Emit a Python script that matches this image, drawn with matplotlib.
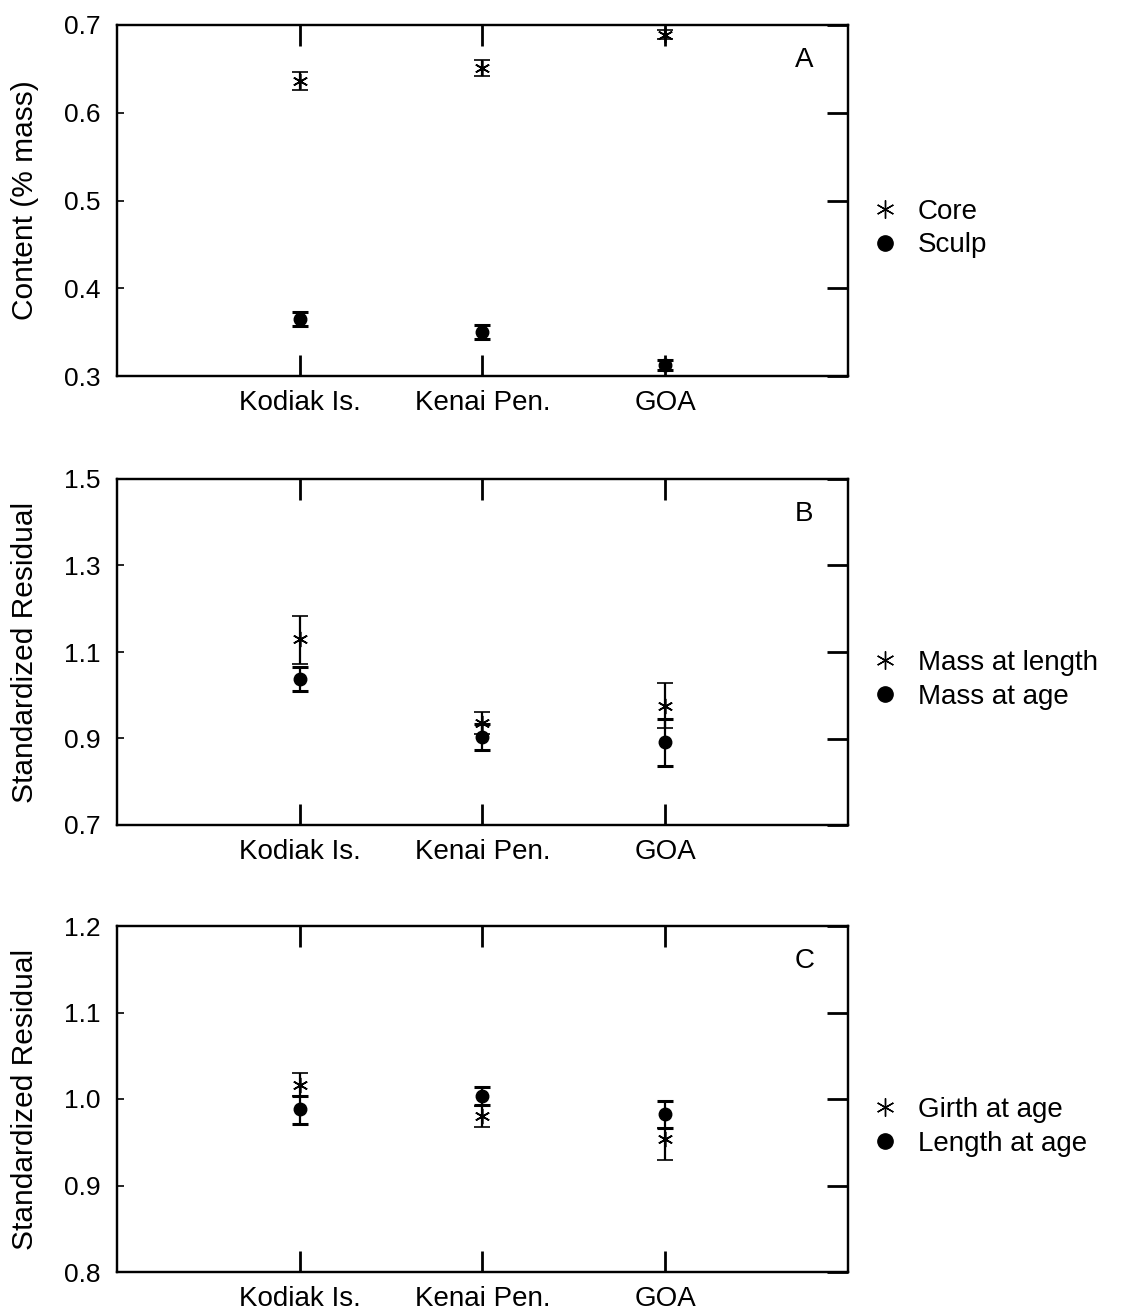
import numpy as np
import matplotlib
matplotlib.use("Agg")
import matplotlib.pyplot as plt
from matplotlib.lines import Line2D

plt.rcParams['font.family'] = ['Liberation Sans', 'DejaVu Sans']

sites = ['Kodiak Is.', 'Kenai Pen.', 'GOA']

# panel A: content (% mass)
core = [0.636, 0.651, 0.689]
core_err = [0.010, 0.009, 0.005]
sculp = [0.365, 0.350, 0.3125]
sculp_err = [0.008, 0.008, 0.006]

# panel B: standardized residuals
mass_len = [1.130, 0.936, 0.975]
mass_len_lo = [0.058, 0.026, 0.050]
mass_len_hi = [0.054, 0.026, 0.053]
mass_age = [1.037, 0.904, 0.893]
mass_age_lo = [0.027, 0.031, 0.056]
mass_age_hi = [0.028, 0.030, 0.053]

# panel C: standardized residuals
girth_age = [1.016, 0.980, 0.954]
girth_age_lo = [0.013, 0.012, 0.025]
girth_age_hi = [0.014, 0.012, 0.012]
len_age = [0.988, 1.004, 0.983]
len_age_lo = [0.017, 0.011, 0.017]
len_age_hi = [0.015, 0.010, 0.015]

x = np.arange(1, len(sites) + 1)

fig = plt.figure(figsize=(11.21, 13.13), dpi=100)
L, W = 117/1121, 731/1121
boxes = [(25, 376), (479, 825), (926, 1272)]
axes = []
for top, bot in boxes:
    axes.append(fig.add_axes([L, 1 - bot/1313, W, (bot - top)/1313]))

star = (6, 2, 0)
ebkw = dict(color='black', ecolor='black', capsize=6, capthick=2.2, elinewidth=1.6, linestyle='none')


def panel(ax, s1, e1, s2, e2, ylim, yt, ylab, letter, lab1, lab2):
    ax.errorbar(x, s1, yerr=e1, marker=star, markersize=11, markeredgewidth=1.2, **ebkw)
    ax.errorbar(x, s2, yerr=e2, marker='o', markersize=9, **ebkw)
    ax.set_xlim(0, 4)
    ax.set_ylim(*ylim)
    ax.set_yticks(yt)
    ax.set_yticklabels(['%.1f' % v for v in yt])
    ax.set_xticks(x)
    ax.set_xticklabels(sites)
    ax.tick_params(axis='x', direction='in', length=15, width=2, top=True, pad=10, labelsize=20)
    ax.tick_params(axis='y', direction='in', length=5, width=1.2, pad=12, labelsize=19)
    ax2 = ax.twinx()
    ax2.set_ylim(*ylim)
    ax2.set_yticks(yt)
    ax2.tick_params(direction='in', length=15, width=2, labelright=False)
    for sp in ax.spines.values():
        sp.set_linewidth(1.6)
    for sp in ax2.spines.values():
        sp.set_linewidth(1.6)
    ax.set_ylabel(ylab, fontsize=21.5, labelpad=18)
    ax.text(0.94, 0.9, letter, transform=ax.transAxes, fontsize=20, ha='center', va='center')
    handles = [Line2D([], [], marker=star, markersize=13, markeredgewidth=1.0, color='black', linestyle='none'),
               Line2D([], [], marker='o', markersize=11, color='black', linestyle='none')]
    ax2.legend(handles, [lab1, lab2], loc='center left', bbox_to_anchor=(0.997, 0.42), frameon=False,
               fontsize=20, handlelength=1.0, handletextpad=0.7, labelspacing=0.28)


panel(axes[0], core, core_err, sculp, sculp_err, (0.3, 0.7), [0.3, 0.4, 0.5, 0.6, 0.7],
      'Content (% mass)', 'A', 'Core', 'Sculp')
panel(axes[1], mass_len, [mass_len_lo, mass_len_hi], mass_age, [mass_age_lo, mass_age_hi],
      (0.7, 1.5), [0.7, 0.9, 1.1, 1.3, 1.5], 'Standardized Residual', 'B', 'Mass at length', 'Mass at age')
panel(axes[2], girth_age, [girth_age_lo, girth_age_hi], len_age, [len_age_lo, len_age_hi],
      (0.8, 1.2), [0.8, 0.9, 1.0, 1.1, 1.2], 'Standardized Residual', 'C', 'Girth at age', 'Length at age')

fig.savefig('out.png', dpi=100)
